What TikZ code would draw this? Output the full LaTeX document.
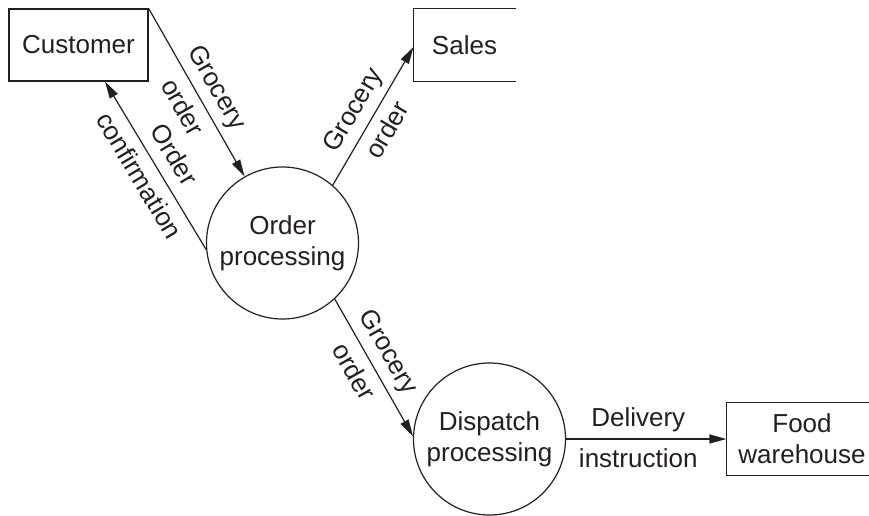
\documentclass[tikz,border=0pt]{standalone}
\usepackage{fontspec}
\setmainfont{Liberation Sans}
\usetikzlibrary{arrows.meta}
\definecolor{ink}{RGB}{35,31,32}
\begin{document}
\begin{tikzpicture}[x=1pt,y=-1pt, line width=1.2pt, draw=ink, text=ink,
  font=\fontsize{26}{31}\selectfont,
  arr/.style={-{Triangle[length=17pt,width=9pt]}},
  ent/.style={draw, rectangle, minimum width=139pt, minimum height=72pt, inner sep=0pt},
  openent/.style={rectangle, minimum height=72pt, inner sep=0pt, align=center},
  proc/.style={draw, circle, minimum size=152pt, inner sep=0pt, align=center},
  lup/.style={above, sloped, inner sep=6.5pt, text height=19pt, text depth=5.5pt},
  ldn/.style={below, sloped, inner sep=8.5pt, text height=19pt, text depth=5.5pt}]
\useasboundingbox (0,0) rectangle (869,516);
% entities
\node[ent] (cust) at (78.5,45) {Customer};
\node[openent, minimum width=101pt] (sales) at (464.5,45) {Sales};
\draw (sales.north east) -- (sales.north west) -- (sales.south west) -- (sales.south east);
\node[openent, minimum width=150pt] (fw) at (802,439) {Food\\warehouse};
\coordinate (xr) at (869,0);
\draw (xr |- fw.north) -- (fw.north west) -- (fw.south west) -- (xr |- fw.south);
% processes
\node[proc] (op) at (282.5,243) {Order\\processing};
\node[proc] (dp) at (489.5,439) {Dispatch\\processing};
% flows
\draw[arr] (cust.north east) -- node[lup,pos=0.53]{Grocery} node[ldn,pos=0.53]{order} (op);
\draw[arr] (op.185) -- node[lup]{Order} node[ldn]{confirmation} ([xshift=26.5pt]cust.south);
\draw[arr] (op.49) -- node[lup,pos=0.47]{Grocery} node[ldn,pos=0.47]{order} ([yshift=-2pt]sales.west);
\draw[arr] (op.-47) -- node[lup,pos=0.46]{Grocery} node[ldn,pos=0.46]{order} (dp.178);
\draw[arr] (dp.east) -- node[lup,pos=0.45]{Delivery} node[ldn,pos=0.45]{instruction} (fw.west);
\end{tikzpicture}
\end{document}
